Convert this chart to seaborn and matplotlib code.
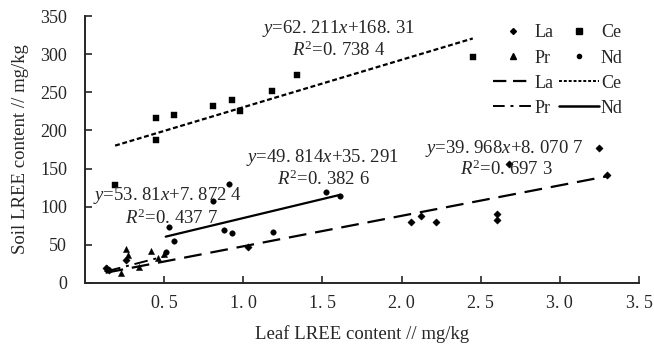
import numpy as np
import seaborn as sns
import matplotlib
matplotlib.use("Agg")
import matplotlib.pyplot as plt
from matplotlib.lines import Line2D

# leaf vs soil LREE content (mg/kg)
la_x = [0.13, 0.15, 0.26, 1.03, 2.06, 2.12, 2.22, 2.60, 2.60, 2.68, 3.25, 3.30]
la_y = [20, 17, 30, 47, 80, 88, 80, 82, 91, 156, 177, 142]
ce_x = [0.19, 0.45, 0.45, 0.56, 0.81, 0.93, 0.98, 1.18, 1.34, 2.45]
ce_y = [128, 216, 187, 220, 232, 240, 226, 252, 273, 297]
pr_x = [0.14, 0.23, 0.26, 0.27, 0.34, 0.42, 0.46, 0.50]
pr_y = [19, 13, 44, 37, 21, 42, 33, 38]
nd_x = [0.51, 0.53, 0.56, 0.81, 0.88, 0.91, 0.93, 1.19, 1.52, 1.61]
nd_y = [40, 73, 55, 108, 70, 130, 66, 67, 119, 114]

# fitted equations printed on the chart
slopes = {"La": 39.968, "Ce": 62.211, "Pr": 53.81, "Nd": 49.814}
intercepts = {"La": 8.0707, "Ce": 168.31, "Pr": 7.8724, "Nd": 35.291}
eq_text = {
    "Ce": (r"$y$=62. 211$x$+168. 31", r"$R^2$=0. 738 4"),
    "Nd": (r"$y$=49. 814$x$+35. 291", r"$R^2$=0. 382 6"),
    "Pr": (r"$y$=53. 81$x$+7. 872 4", r"$R^2$=0. 437 7"),
    "La": (r"$y$=39. 968$x$+8. 070 7", r"$R^2$=0. 697 3"),
}
xticks = [0.5, 1.0, 1.5, 2.0, 2.5, 3.0, 3.5]
xticklabels = ["0. 5", "1. 0", "1. 5", "2. 0", "2. 5", "3. 0", "3. 5"]
yticks = [0, 50, 100, 150, 200, 250, 300, 350]

sns.set_style("ticks")
plt.rcParams["font.family"] = ["Liberation Serif", "DejaVu Serif"]
plt.rcParams["mathtext.fontset"] = "custom"
plt.rcParams["mathtext.rm"] = "Liberation Serif"
plt.rcParams["mathtext.it"] = "Liberation Serif:italic"

fig = plt.figure(figsize=(6.54, 3.51), dpi=100)
ax = fig.add_axes([0.13, 0.194, 0.847, 0.76])

series = {
    "La": (la_x, la_y, "D", 14, (0, (8, 4)), 1.6),
    "Ce": (ce_x, ce_y, "s", 22, (0, (2.2, 1.2)), 1.6),
    "Pr": (pr_x, pr_y, "^", 20, (0, (7, 3, 1.5, 3)), 1.4),
    "Nd": (nd_x, nd_y, "o", 16, "-", 1.6),
}
for name, (xs, ys, mk, sz, ls, lw) in series.items():
    sns.scatterplot(x=xs, y=ys, marker=mk, s=sz, color="black", edgecolor="black",
                    linewidth=0.3, ax=ax)
    xx = np.array([min(xs), max(xs)])
    ax.plot(xx, slopes[name] * xx + intercepts[name], color="black", lw=lw, ls=ls)

# equation labels
pos = {"Ce": ((1.12, 334), (1.31, 305)),
       "Nd": ((1.02, 165), (1.21, 136)),
       "Pr": ((0.05, 115), (0.25, 85)),
       "La": ((2.15, 177), (2.37, 149))}
for name, (p1, p2) in pos.items():
    ax.text(p1[0], p1[1], eq_text[name][0], fontsize=13.5, va="center", ha="left")
    ax.text(p2[0], p2[1], eq_text[name][1], fontsize=13.5, va="center", ha="left")

ax.set_xlim(0, 3.5)
ax.set_ylim(0, 350)
ax.set_xticks(xticks)
ax.set_xticklabels(xticklabels)
ax.set_yticks(yticks)
ax.tick_params(direction="in", length=5, width=1.2, labelsize=13, pad=9)
ax.tick_params(axis="y", pad=13)
for s in ["top", "right"]:
    ax.spines[s].set_visible(False)
for s in ["left", "bottom"]:
    ax.spines[s].set_linewidth(1.4)
ax.set_xlabel("Leaf LREE content // mg/kg", fontsize=13.5, labelpad=9)
ax.set_ylabel("Soil LREE content // mg/kg", fontsize=13.5, labelpad=8)

h = [
    Line2D([], [], ls="", marker="D", ms=3, color="black"),
    Line2D([], [], ls="", marker="^", ms=4, color="black"),
    Line2D([], [], ls=(0, (6, 3)), lw=1.6, color="black"),
    Line2D([], [], ls=(0, (6, 3, 1.5, 3)), lw=1.4, color="black"),
    Line2D([], [], ls="", marker="s", ms=4, color="black"),
    Line2D([], [], ls="", marker="o", ms=3, color="black"),
    Line2D([], [], ls=(0, (1.5, 1)), lw=1.4, color="black"),
    Line2D([], [], ls="-", lw=1.8, color="black"),
]
labels = ["La", "Pr", "La", "Pr", "Ce", "Nd", "Ce", "Nd"]
ax.legend(h, labels, ncol=2, frameon=False, fontsize=13, loc="upper right",
          bbox_to_anchor=(1.0, 1.03), handlelength=2.2, handletextpad=0.1,
          columnspacing=0.3, labelspacing=0.45)

fig.savefig("out.png", dpi=100)
